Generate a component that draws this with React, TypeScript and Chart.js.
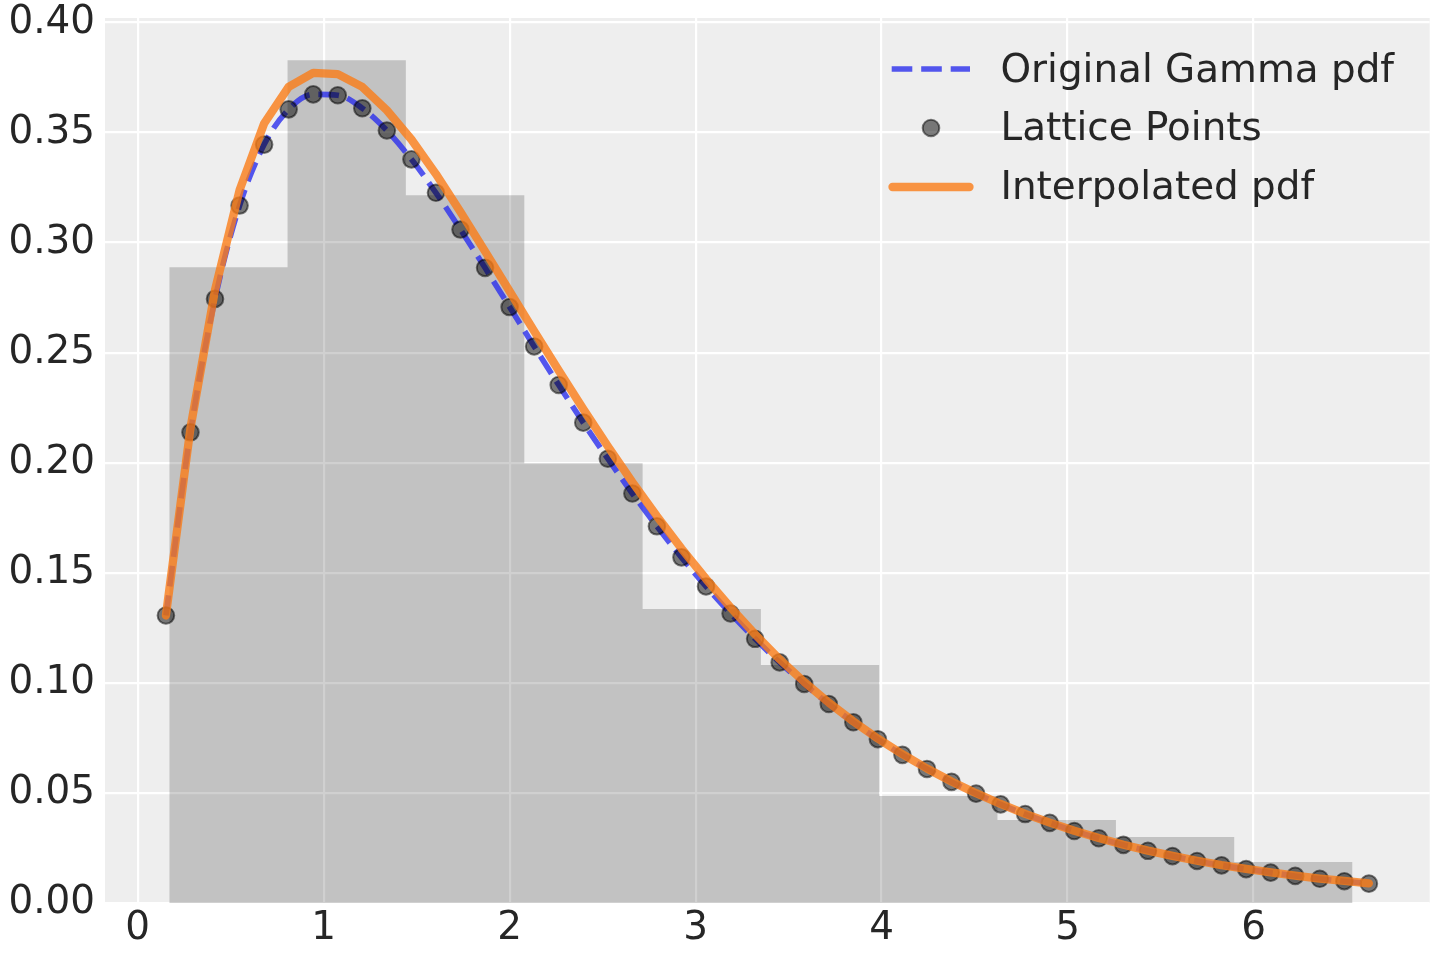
import { useEffect, useRef } from "react";
import Chart from "chart.js/auto";

// lattice on which the gamma pdf was evaluated
const latticeX = [
  0.152, 0.284, 0.416, 0.548, 0.68, 0.812, 0.944, 1.076, 1.208, 1.34,
  1.472, 1.604, 1.736, 1.868, 2.0, 2.132, 2.264, 2.396, 2.528, 2.66,
  2.792, 2.924, 3.056, 3.188, 3.32, 3.452, 3.584, 3.716, 3.848, 3.98,
  4.112, 4.244, 4.376, 4.508, 4.64, 4.772, 4.904, 5.036, 5.168, 5.3,
  5.432, 5.564, 5.696, 5.828, 5.96, 6.092, 6.224, 6.356, 6.488, 6.62,
];

const gammaPdf = [
  0.1306, 0.2138, 0.2744, 0.3168, 0.3445, 0.3605, 0.3673, 0.3669, 0.361, 0.3509,
  0.3378, 0.3226, 0.3059, 0.2885, 0.2707, 0.2528, 0.2353, 0.2182, 0.2018, 0.186,
  0.1711, 0.157, 0.1438, 0.1315, 0.12, 0.1093, 0.0995, 0.0904, 0.0821, 0.0744,
  0.0673, 0.0609, 0.055, 0.0497, 0.0448, 0.0404, 0.0364, 0.0327, 0.0294, 0.0264,
  0.0237, 0.0213, 0.0191, 0.0171, 0.0154, 0.0138, 0.0123, 0.011, 0.0099, 0.0088,
];

const interpPdf = [
  0.1306, 0.2158, 0.2784, 0.3238, 0.3541, 0.3707, 0.3771, 0.3765, 0.3707, 0.3601,
  0.3468, 0.3311, 0.3139, 0.296, 0.2779, 0.2598, 0.2419, 0.2244, 0.2075, 0.1912,
  0.1757, 0.161, 0.1472, 0.1342, 0.122, 0.1107, 0.1004, 0.091, 0.0825, 0.0747,
  0.0676, 0.0611, 0.0552, 0.0499, 0.045, 0.0405, 0.0365, 0.0328, 0.0295, 0.0265,
  0.0238, 0.0214, 0.0192, 0.0172, 0.0155, 0.0139, 0.0124, 0.0111, 0.01, 0.0089,
];

// histogram of the samples (density)
const histEdges = [0.17, 0.806, 1.442, 2.079, 2.715, 3.351, 3.987, 4.623, 5.26, 5.896, 6.532];
const histDensity = [0.2888, 0.3828, 0.3215, 0.1997, 0.1335, 0.1081, 0.0486, 0.0377, 0.03, 0.0186];

const xTicks = [0, 1, 2, 3, 4, 5, 6];
const yTicks = [0, 0.05, 0.1, 0.15, 0.2, 0.25, 0.3, 0.35, 0.4];

const FONT = "DejaVu Sans";
const TEXT = "#262626";
const BLUE = "rgba(42, 46, 236, 0.8)";
const ORANGE = "rgba(250, 124, 23, 0.8)";
const DOT = "rgba(0, 0, 0, 0.5)";

const plotBg = {
  id: "plotBg",
  beforeDraw(chart: Chart) {
    const { ctx, chartArea } = chart;
    ctx.save();
    ctx.fillStyle = "#eeeeee";
    ctx.fillRect(chartArea.left, chartArea.top, chartArea.right - chartArea.left, chartArea.bottom - chartArea.top);
    ctx.restore();
  },
};

const legendRows = [
  { label: "Original Gamma pdf", kind: "dash" },
  { label: "Lattice Points", kind: "dot" },
  { label: "Interpolated pdf", kind: "line" },
];

function LegendHandle({ kind }: { kind: string }) {
  if (kind === "dash") {
    return (
      <svg width={90} height={20} style={{ position: "absolute", left: 886, top: 19.4 }}>
        <line x1={5.7} y1={10} x2={84} y2={10} stroke={BLUE} strokeWidth={5.6} strokeDasharray="20.6 8.9" />
      </svg>
    );
  }
  if (kind === "dot") {
    return (
      <svg width={30} height={30} style={{ position: "absolute", left: 916, top: 14.4 }}>
        <circle cx={15} cy={15} r={8.3} fill={DOT} stroke={DOT} strokeWidth={2} />
      </svg>
    );
  }
  return (
    <svg width={100} height={20} style={{ position: "absolute", left: 881, top: 19.4 }}>
      <line x1={11.5} y1={10} x2={88.5} y2={10} stroke={ORANGE} strokeWidth={8.3} strokeLinecap="round" />
    </svg>
  );
}

export default function App() {
  const canvasRef = useRef<HTMLCanvasElement | null>(null);

  useEffect(() => {
    document.body.style.margin = "0";
    if (!canvasRef.current) return;
    const ctx = canvasRef.current.getContext("2d");
    if (!ctx) return;

    const histPoints = histDensity.map((h, i) => ({ x: histEdges[i], y: h }));
    histPoints.push({ x: histEdges[histEdges.length - 1], y: histDensity[histDensity.length - 1] });

    const chart = new Chart(ctx, {
      type: "line",
      data: {
        datasets: [
          {
            label: "hist",
            data: histPoints,
            stepped: true,
            fill: "origin",
            backgroundColor: "rgba(0, 0, 0, 0.185)",
            borderColor: "transparent",
            borderWidth: 0,
            pointRadius: 0,
            order: 4,
          },
          {
            label: "Original Gamma pdf",
            data: latticeX.map((x, i) => ({ x, y: gammaPdf[i] })),
            borderColor: BLUE,
            borderWidth: 5.6,
            borderDash: [20.6, 8.9],
            cubicInterpolationMode: "monotone",
            pointRadius: 0,
            fill: false,
            order: 3,
          },
          {
            label: "Lattice Points",
            data: latticeX.map((x, i) => ({ x, y: gammaPdf[i] })),
            showLine: false,
            pointRadius: 8.3,
            pointBorderWidth: 2,
            pointBackgroundColor: DOT,
            pointBorderColor: DOT,
            order: 2,
          },
          {
            label: "Interpolated pdf",
            data: latticeX.map((x, i) => ({ x, y: interpPdf[i] })),
            borderColor: ORANGE,
            borderWidth: 8.3,
            borderCapStyle: "round",
            borderJoinStyle: "round",
            tension: 0,
            pointRadius: 0,
            fill: false,
            order: 1,
          },
        ],
      },
      options: {
        responsive: false,
        animation: false,
        devicePixelRatio: 1,
        layout: { padding: { left: 0, top: 18, right: 8, bottom: 0 } },
        plugins: {
          legend: { display: false },
          tooltip: { enabled: false },
        },
        scales: {
          x: {
            type: "linear",
            min: -0.1755,
            max: 6.947,
            afterFit: (scale) => {
              scale.height = 57;
              scale.paddingLeft = 0;
              scale.paddingRight = 0;
            },
            afterBuildTicks: (axis) => {
              axis.ticks = xTicks.map((v) => ({ value: v }));
            },
            grid: { color: "#ffffff", lineWidth: 2.2, drawTicks: false },
            border: { display: false },
            ticks: {
              padding: 3,
              color: TEXT,
              font: { family: FONT, size: 38.9 },
              callback: (v) => String(v),
            },
          },
          y: {
            type: "linear",
            min: 0,
            max: 0.402,
            afterFit: (scale) => {
              scale.width = 105;
              scale.paddingTop = 0;
              scale.paddingBottom = 0;
            },
            afterBuildTicks: (axis) => {
              axis.ticks = yTicks.map((v) => ({ value: v }));
            },
            grid: { color: "#ffffff", lineWidth: 2.2, drawTicks: false },
            border: { display: false },
            ticks: {
              padding: 10,
              color: TEXT,
              font: { family: FONT, size: 38.9 },
              callback: (v) => Number(v).toFixed(2),
            },
          },
        },
      },
      plugins: [plotBg],
    });

    return () => {
      chart.destroy();
    };
  }, []);

  return (
    <div style={{ position: "relative", width: 1440, height: 960, background: "#ffffff" }}>
      <canvas ref={canvasRef} width={1440} height={960} style={{ display: "block" }}></canvas>
      <div style={{ position: "absolute", left: 0, top: 39.6, width: 1440 }}>
        {legendRows.map((row) => (
          <div key={row.label} style={{ position: "relative", height: 58.85 }}>
            <LegendHandle kind={row.kind} />
            <span
              style={{
                position: "absolute",
                left: 1000.5,
                top: 0,
                lineHeight: "58.85px",
                fontFamily: FONT,
                fontSize: 38.9,
                color: TEXT,
                whiteSpace: "nowrap",
              }}
            >
              {row.label}
            </span>
          </div>
        ))}
      </div>
    </div>
  );
}
